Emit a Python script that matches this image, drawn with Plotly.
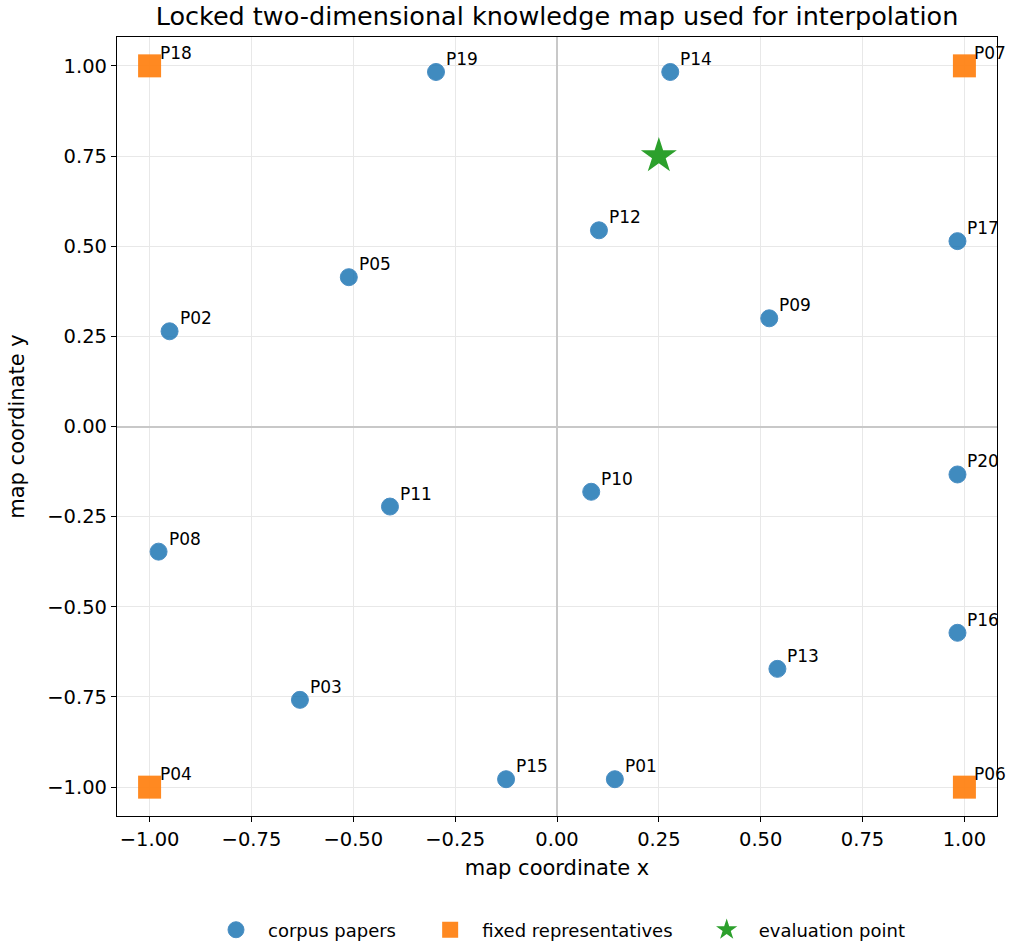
import plotly.graph_objects as go

labels = ["P01","P02","P03","P05","P08","P09","P10","P11","P12","P13","P14","P15","P16","P17","P19","P20"]
px_ = [0.142, -0.951, -0.631, -0.511, -0.978, 0.521, 0.084, -0.410, 0.103, 0.541, 0.278, -0.125, 0.983, 0.983, -0.297, 0.983]
py_ = [-0.978, 0.264, -0.758, 0.414, -0.347, 0.300, -0.181, -0.222, 0.544, -0.672, 0.983, -0.978, -0.572, 0.514, 0.983, -0.133]

rep_labels = ["P04", "P06", "P07", "P18"]
rep_x = [-1.0, 1.0, 1.0, -1.0]
rep_y = [-1.0, -1.0, 1.0, 1.0]

eval_x = [0.25]
eval_y = [0.75]

font = "DejaVu Sans"
pad = "\u00a0\u00a0\u00a0"

fig = go.Figure()
fig.add_trace(go.Scatter(
    x=px_, y=py_, mode="markers", name="corpus papers" + pad,
    marker=dict(symbol="circle", size=17, color="#1f77b4", opacity=0.85,
                line=dict(width=1, color="#2b7bba")),
))
fig.add_trace(go.Scatter(
    x=rep_x, y=rep_y, mode="markers", name="fixed representatives" + pad,
    marker=dict(symbol="square", size=23, color="#ff7f0e", opacity=0.92,
                line=dict(width=0)),
))
fig.add_trace(go.Scatter(
    x=eval_x, y=eval_y, mode="markers", name="evaluation point",
    marker=dict(symbol="star", size=27, color="#2ca02c", line=dict(width=0)),
))

for lab, xx, yy in list(zip(labels, px_, py_)) + list(zip(rep_labels, rep_x, rep_y)):
    fig.add_annotation(x=xx, y=yy, text=lab, showarrow=False,
                       xanchor="left", yanchor="bottom", xshift=8, yshift=1,
                       font=dict(family=font, size=17, color="black"))

axis_common = dict(
    showgrid=True, gridcolor="#e8e8e8", gridwidth=1,
    zeroline=True, zerolinecolor="#c8c8c8", zerolinewidth=1.5,
    showline=True, linecolor="black", linewidth=1.2, mirror=True,
    ticks="outside", ticklen=5, tickwidth=1, tickcolor="black",
    tickfont=dict(family=font, size=19.5, color="black"),
    range=[-1.08, 1.08], tickformat=".2f",
    tickvals=[-1.0, -0.75, -0.5, -0.25, 0.0, 0.25, 0.5, 0.75, 1.0],
    automargin=False,
)

fig.update_layout(
    width=1010, height=942,
    margin=dict(l=117, r=13, t=37, b=126, autoexpand=False),
    paper_bgcolor="white", plot_bgcolor="white",
    font=dict(family=font, color="black"),
    title=dict(text="Locked two-dimensional knowledge map used for interpolation",
               x=0.5, xanchor="center", xref="paper", y=0.983, yanchor="middle",
               font=dict(family=font, size=25.5, color="black")),
    xaxis=dict(axis_common, title=dict(text="map coordinate x",
               font=dict(family=font, size=21), standoff=10)),
    yaxis=dict(axis_common, title=dict(text="map coordinate y",
               font=dict(family=font, size=21), standoff=16)),
    legend=dict(orientation="h", x=0.5, xanchor="center", xref="paper",
                y=0.0127, yanchor="middle", yref="container",
                font=dict(family=font, size=18, color="black"),
                itemwidth=54, tracegroupgap=0, bgcolor="rgba(0,0,0,0)"),
    showlegend=True,
)

fig.write_html("out.html", config={"displayModeBar": False},
               post_script="document.body.style.margin='0';document.body.style.padding='0';")
